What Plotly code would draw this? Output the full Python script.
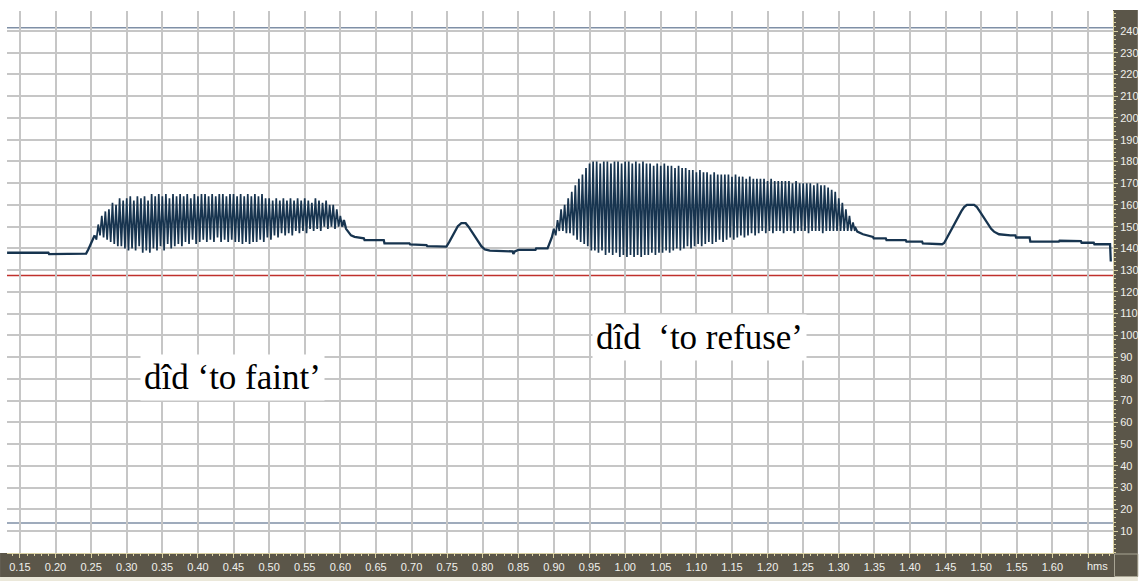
import plotly.graph_objects as go

# ---------------- data ----------------
# plain pitch track before the first word
pre_t = [0.132, 0.190, 0.191, 0.243, 0.246, 0.249, 0.252, 0.255]
pre_f0 = [138.0, 138.0, 137.4, 137.6, 139.5, 141.5, 143.5, 146.0]

# "did 'to faint'" : strokes (upper / lower value of each pitch jump)
faint_t = [0.255, 0.260, 0.265, 0.270, 0.275, 0.280, 0.285, 0.290, 0.295, 0.300,
           0.305, 0.310, 0.315, 0.320, 0.325, 0.330, 0.335, 0.340, 0.345, 0.350,
           0.355, 0.360, 0.365, 0.370, 0.375, 0.380, 0.385, 0.390, 0.395, 0.400,
           0.405, 0.410, 0.415, 0.420, 0.425, 0.430, 0.435, 0.440, 0.445, 0.450,
           0.455, 0.460, 0.465, 0.470, 0.475, 0.480, 0.485, 0.490, 0.495, 0.500,
           0.505, 0.510, 0.515, 0.520, 0.525, 0.530, 0.535, 0.540, 0.545, 0.550,
           0.555, 0.560, 0.565, 0.570, 0.575, 0.580, 0.585, 0.590, 0.595, 0.600]
faint_hi = [146, 151, 155, 157, 158, 161, 160, 163, 162, 163,
            164, 162, 164, 163, 164, 162, 165, 164, 165, 164,
            165, 163, 165, 164, 165, 164, 165, 163, 165, 164,
            165, 165, 164, 165, 164, 165, 165, 164, 165, 165,
            164, 165, 164, 165, 164, 165, 164, 165, 163, 163,
            162, 163, 162, 163, 162, 163, 162, 163, 162, 163,
            162, 161, 163, 162, 161, 162, 160, 160, 158, 155]
faint_lo = [144, 146, 145, 144, 143, 142, 141, 141, 140, 139,
            140, 139, 141, 138, 139, 138, 140, 139, 141, 139,
            142, 140, 141, 142, 141, 143, 142, 144, 142, 143,
            144, 143, 144, 143, 145, 143, 144, 143, 144, 143,
            143, 142, 143, 142, 143, 143, 144, 143, 145, 144,
            146, 145, 147, 146, 147, 146, 148, 147, 148, 147,
            149, 148, 149, 148, 150, 149, 150, 149, 150, 150]

# plain pitch track between the two words
mid_t = [0.6025, 0.605, 0.608, 0.611, 0.615, 0.620, 0.633, 0.634, 0.661, 0.662,
         0.697, 0.698, 0.721, 0.722, 0.749, 0.753, 0.757, 0.761, 0.765, 0.770,
         0.776, 0.780, 0.784, 0.788, 0.793, 0.798, 0.803, 0.810, 0.842, 0.843,
         0.845, 0.850, 0.874, 0.875, 0.891, 0.894, 0.897, 0.900]
mid_f0 = [150.0, 153.0, 149.0, 147.5, 146.0, 145.3, 144.6, 143.8, 143.8, 142.3,
          142.3, 141.8, 141.5, 141.0, 140.8, 143.0, 145.5, 148.0, 150.2, 151.6,
          151.6, 150.0, 148.0, 145.5, 143.0, 141.0, 139.5, 139.0, 138.6, 137.4,
          138.6, 139.3, 139.3, 140.0, 140.0, 142.5, 145.0, 149.0]

# "did 'to refuse'" : strokes
refuse_t = [0.900, 0.905, 0.910, 0.915, 0.920, 0.925, 0.930, 0.935, 0.940, 0.945,
            0.950, 0.955, 0.960, 0.965, 0.970, 0.975, 0.980, 0.985, 0.990, 0.995,
            1.000, 1.005, 1.010, 1.015, 1.020, 1.025, 1.030, 1.035, 1.040, 1.045,
            1.050, 1.055, 1.060, 1.065, 1.070, 1.075, 1.080, 1.085, 1.090, 1.095,
            1.100, 1.105, 1.110, 1.115, 1.120, 1.125, 1.130, 1.135, 1.140, 1.145,
            1.150, 1.155, 1.160, 1.165, 1.170, 1.175, 1.180, 1.185, 1.190, 1.195,
            1.200, 1.205, 1.210, 1.215, 1.220, 1.225, 1.230, 1.235, 1.240, 1.245,
            1.250, 1.255, 1.260, 1.265, 1.270, 1.275, 1.280, 1.285, 1.290, 1.295,
            1.300, 1.305, 1.310, 1.315, 1.320]
refuse_hi = [149, 153, 158, 160, 163, 166, 169, 172, 174, 177,
             179, 180, 180, 179, 180, 180, 179, 180, 180, 179,
             180, 180, 179, 180, 179, 180, 179, 179, 178, 179,
             178, 179, 178, 178, 177, 178, 177, 177, 176, 176,
             175, 176, 175, 175, 174, 175, 174, 174, 174, 174,
             173, 174, 173, 173, 172, 173, 172, 172, 172, 172,
             171, 172, 171, 171, 171, 171, 171, 170, 171, 170,
             170, 170, 170, 169, 170, 169, 169, 168, 167, 166,
             163, 161, 158, 155, 152]
refuse_lo = [146, 148, 148, 147, 147, 146, 144, 143, 142, 141,
             139, 139, 138, 139, 137, 138, 137, 138, 136, 137,
             136, 137, 136, 137, 136, 137, 137, 138, 137, 138,
             138, 139, 138, 139, 140, 139, 140, 141, 140, 141,
             142, 141, 142, 143, 142, 143, 144, 143, 144, 145,
             144, 145, 146, 145, 146, 147, 146, 147, 148, 147,
             148, 147, 148, 148, 147, 148, 148, 147, 148, 148,
             148, 147, 148, 148, 148, 147, 148, 148, 148, 148,
             148, 148, 148, 148, 148]

# plain pitch track after the second word
post_t = [1.3225, 1.326, 1.334, 1.340, 1.348, 1.349, 1.366, 1.367, 1.394, 1.395,
          1.417, 1.418, 1.445, 1.448, 1.452, 1.456, 1.460, 1.464, 1.468, 1.472,
          1.476, 1.480, 1.490, 1.494, 1.498, 1.502, 1.506, 1.510, 1.514, 1.518,
          1.525, 1.541, 1.548, 1.549, 1.568, 1.569, 1.609, 1.610, 1.640, 1.641,
          1.658, 1.659, 1.681, 1.682]
post_f0 = [150.0, 147.7, 146.5, 146.0, 145.3, 144.6, 144.6, 143.8, 143.8, 143.1,
           143.1, 142.3, 141.9, 142.5, 145.0, 147.0, 149.5, 152.0, 154.5, 157.0,
           159.0, 160.0, 160.0, 159.0, 157.0, 155.0, 153.0, 151.0, 149.0, 147.7,
           146.5, 146.0, 146.0, 145.0, 145.0, 143.1, 143.1, 143.5, 143.3, 142.6,
           142.6, 141.9, 141.9, 134.0]

# axis ticks and reference lines
time_ticks = [0.15, 0.20, 0.25, 0.30, 0.35, 0.40, 0.45, 0.50, 0.55, 0.60,
              0.65, 0.70, 0.75, 0.80, 0.85, 0.90, 0.95, 1.00, 1.05, 1.10,
              1.15, 1.20, 1.25, 1.30, 1.35, 1.40, 1.45, 1.50, 1.55, 1.60, 1.65]
time_labels = ["0.15", "0.20", "0.25", "0.30", "0.35", "0.40", "0.45", "0.50",
               "0.55", "0.60", "0.65", "0.70", "0.75", "0.80", "0.85", "0.90",
               "0.95", "1.00", "1.05", "1.10", "1.15", "1.20", "1.25", "1.30",
               "1.35", "1.40", "1.45", "1.50", "1.55", "1.60", ""]
f0_ticks = [10, 20, 30, 40, 50, 60, 70, 80, 90, 100, 110, 120,
            130, 140, 150, 160, 170, 180, 190, 200, 210, 220, 230, 240]
red_level = 127.5
upper_limit = 241.5
lower_limit = 13.7

word_labels = ["dîd ‘to faint’", "dîd\u00a0\u00a0‘to refuse’"]
word_label_t = [0.448, 1.104]
word_label_f0 = [80.8, 98.8]

# ---------------- styling ----------------
TRACK = "#17344f"
PANEL = "#5b5649"
TICKC = "#d9d0a2"
LABELC = "#f0f0ec"
GRID = "#c6c6c6"
W, H = 1146, 581
ML, MR, MT, MB = 7, 25, 11, 28
PW, PH = W - ML - MR, H - MT - MB


def zigzag(t, hi, lo, half):
    xs, ys = [], []
    for ti, h, l in zip(t, hi, lo):
        xs += [ti, ti + half]
        ys += [h, l]
    return xs, ys


fig = go.Figure()

for tt, ff in [(pre_t, pre_f0), (mid_t, mid_f0), (post_t, post_f0)]:
    fig.add_trace(go.Scatter(x=tt, y=ff, mode="lines",
                             line=dict(color=TRACK, width=2.3),
                             hoverinfo="skip", showlegend=False))

for tt, hi, lo in [(faint_t, faint_hi, faint_lo), (refuse_t, refuse_hi, refuse_lo)]:
    zx, zy = zigzag(tt, hi, lo, 0.0025)
    fig.add_trace(go.Scatter(x=zx, y=zy, mode="lines",
                             line=dict(color=TRACK, width=1.7),
                             hoverinfo="skip", showlegend=False))


def px_x(p):
    return (p - ML) / PW


def px_y(p):
    return (H - MB - p) / PH


shapes = [
    # bottom axis band
    dict(type="rect", xref="paper", yref="paper", layer="below",
         x0=px_x(0), x1=px_x(W), y0=px_y(553), y1=px_y(577),
         fillcolor=PANEL, line=dict(width=0)),
    # light strip under the band
    dict(type="rect", xref="paper", yref="paper", layer="below",
         x0=px_x(0), x1=px_x(W), y0=px_y(577), y1=px_y(H),
         fillcolor="#ebe8da", line=dict(width=0)),
    # right axis panel
    dict(type="rect", xref="paper", yref="paper", layer="below",
         x0=px_x(1121), x1=px_x(W), y0=px_y(553), y1=px_y(10),
         fillcolor=PANEL, line=dict(width=0)),
    # corner box
    dict(type="rect", xref="paper", yref="paper", layer="below",
         x0=px_x(1122.5), x1=px_x(1146), y0=px_y(576.5), y1=px_y(554),
         fillcolor=PANEL, line=dict(color="#a9a594", width=1)),
    # reference lines
    dict(type="line", xref="paper", yref="y", layer="between",
         x0=0, x1=1, y0=red_level, y1=red_level,
         line=dict(color="#c0302c", width=1.6)),
    dict(type="line", xref="paper", yref="y", layer="between",
         x0=0, x1=1, y0=upper_limit, y1=upper_limit,
         line=dict(color="#7f8fa6", width=1.6)),
    dict(type="line", xref="paper", yref="y", layer="between",
         x0=0, x1=1, y0=lower_limit, y1=lower_limit,
         line=dict(color="#7f8fa6", width=1.4)),
]

annotations = []
for txt, tx, fy in zip(word_labels, word_label_t, word_label_f0):
    annotations.append(dict(x=tx, y=fy, xref="x", yref="y", text=txt,
                            showarrow=False, bgcolor="white", borderpad=3,
                            font=dict(family="Liberation Serif, Times New Roman, serif",
                                      size=35, color="black")))
annotations.append(dict(x=px_x(1118), y=px_y(566), xref="paper", yref="paper",
                        text="hms", showarrow=False, xanchor="right",
                        yanchor="middle",
                        font=dict(family="Liberation Sans, Arial, sans-serif",
                                  size=11, color=LABELC)))

fig.update_layout(
    width=W, height=H,
    margin=dict(l=ML, r=MR, t=MT, b=MB, pad=0),
    paper_bgcolor="white", plot_bgcolor="white",
    shapes=shapes, annotations=annotations,
    showlegend=False,
    xaxis=dict(range=[0.13187, 1.6851], tickmode="array",
               tickvals=time_ticks, ticktext=time_labels,
               showgrid=True, gridcolor=GRID, gridwidth=1.6,
               zeroline=False, showline=True, linecolor=TICKC, linewidth=1,
               ticks="outside", ticklen=4, tickwidth=1, tickcolor=TICKC,
               tickfont=dict(family="Liberation Sans, Arial, sans-serif",
                             size=11, color=LABELC),
               minor=dict(tickmode="linear", tick0=0.15, dtick=0.01,
                          ticks="outside", ticklen=2, tickcolor=TICKC,
                          showgrid=False),
               fixedrange=True),
    yaxis=dict(range=[-0.12, 249.2], side="right", tickmode="array",
               tickvals=f0_ticks, ticktext=[str(v) for v in f0_ticks],
               showgrid=True, gridcolor=GRID, gridwidth=1.6,
               zeroline=False, showline=True, linecolor=TICKC, linewidth=1,
               ticks="outside", ticklen=4, tickwidth=1, tickcolor=TICKC,
               tickfont=dict(family="Liberation Sans, Arial, sans-serif",
                             size=11, color=LABELC),
               minor=dict(tickmode="linear", tick0=0, dtick=2,
                          ticks="outside", ticklen=2, tickcolor=TICKC,
                          showgrid=False),
               fixedrange=True),
)

fig.write_html("out.html",
               config={"displayModeBar": False},
               post_script="document.body.style.margin='0';"
                           "document.body.style.overflow='hidden';")
